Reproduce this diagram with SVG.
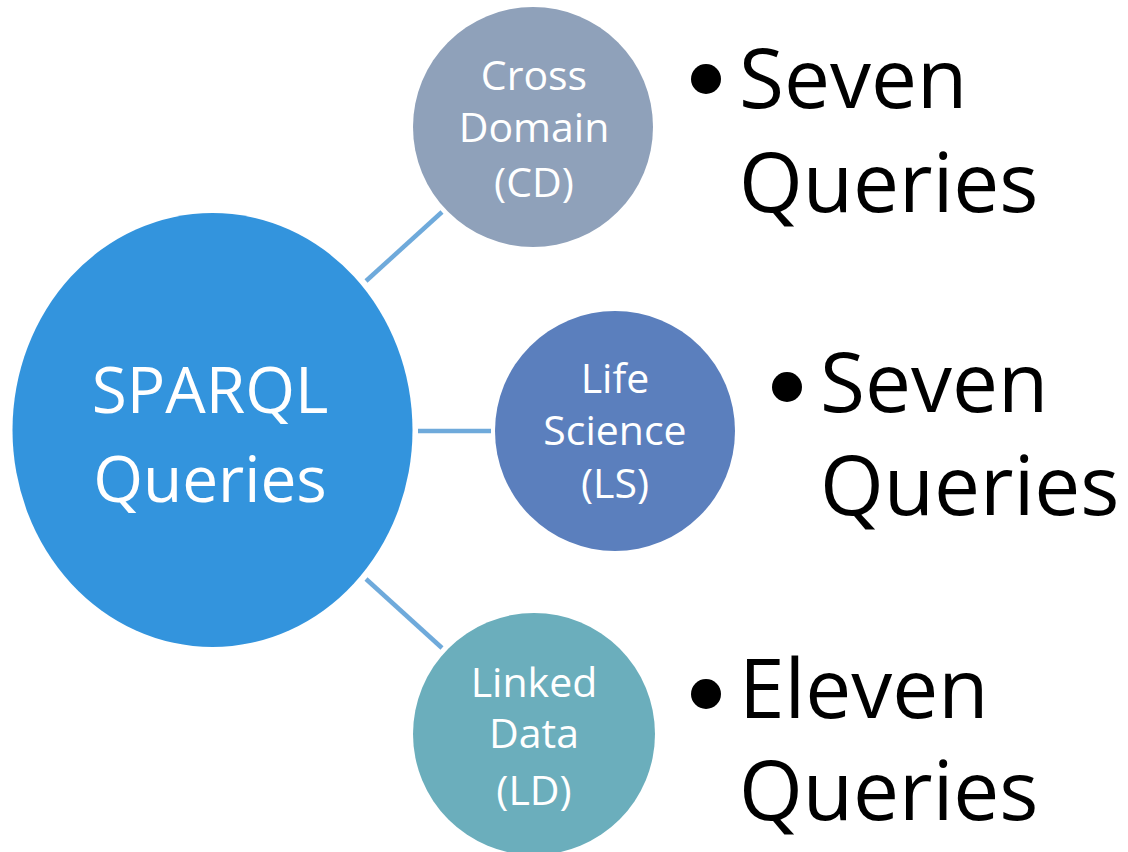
<svg xmlns="http://www.w3.org/2000/svg" width="1128" height="852" viewBox="0 0 1128 852">
<style>
.lbl{font-family:"Open Sans","Noto Sans",sans-serif;fill:#ffffff;text-anchor:middle}
.big{font-size:64px}
.sm{font-size:41px}
.bt{font-family:"Open Sans","Noto Sans",sans-serif;font-size:82px;fill:#000000}
.conn{stroke:#6FAADB;stroke-width:4.5;fill:none}
</style>
<rect x="0" y="0" width="1128" height="852" fill="#ffffff"/>
<g id="connectors">
<line class="conn" x1="366" y1="281" x2="442" y2="212"/>
<line class="conn" x1="418" y1="431" x2="491" y2="431"/>
<line class="conn" x1="366" y1="579" x2="442" y2="648"/>
</g>
<g id="sparql">
<ellipse cx="212.5" cy="430" rx="200" ry="217" fill="#3394DD"/>
<text class="lbl big" x="210" y="413">SPARQL</text>
<text class="lbl big" x="210" y="502">Queries</text>
</g>
<g id="cd">
<circle cx="533" cy="127" r="120" fill="#8FA1BA"/>
<text class="lbl sm" x="534" y="90">Cross</text>
<text class="lbl sm" x="534" y="142">Domain</text>
<text class="lbl sm" x="534" y="197">(CD)</text>
</g>
<g id="ls">
<circle cx="615" cy="431" r="120" fill="#5B7FBD"/>
<text class="lbl sm" x="615" y="393">Life</text>
<text class="lbl sm" x="615" y="445">Science</text>
<text class="lbl sm" x="615" y="498">(LS)</text>
</g>
<g id="ld">
<circle cx="534" cy="734" r="121" fill="#6BAEBC"/>
<text class="lbl sm" x="534" y="697">Linked</text>
<text class="lbl sm" x="534" y="748">Data</text>
<text class="lbl sm" x="534" y="805">(LD)</text>
</g>
<g id="cd-text">
<circle cx="706" cy="79" r="15" fill="#000"/>
<text class="bt" x="739" y="108">Seven</text>
<text class="bt" x="739" y="212">Queries</text>
</g>
<g id="ls-text">
<circle cx="787" cy="387" r="15" fill="#000"/>
<text class="bt" x="820" y="412">Seven</text>
<text class="bt" x="820" y="515">Queries</text>
</g>
<g id="ld-text">
<circle cx="706" cy="694" r="15" fill="#000"/>
<text class="bt" x="739" y="718">Eleven</text>
<text class="bt" x="739" y="820">Queries</text>
</g>
</svg>
